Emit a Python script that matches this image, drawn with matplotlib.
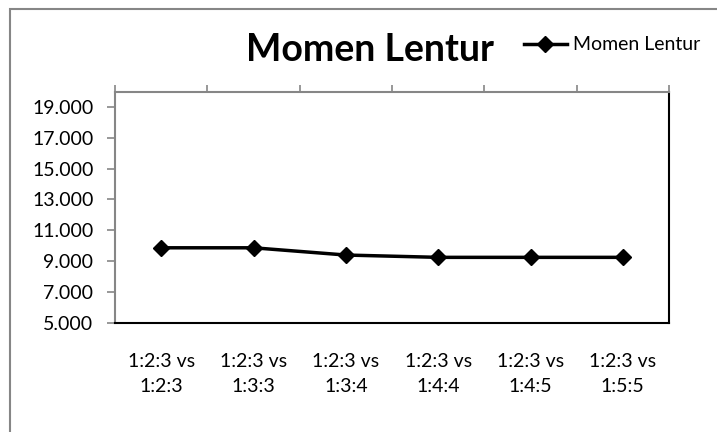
import numpy as np
import matplotlib.pyplot as plt
from matplotlib.ticker import FuncFormatter

plt.rcParams['font.family'] = ['Lato', 'DejaVu Sans']

# data
kategori = ["1:2:3 vs\n1:2:3", "1:2:3 vs\n1:3:3", "1:2:3 vs\n1:3:4",
            "1:2:3 vs\n1:4:4", "1:2:3 vs\n1:4:5", "1:2:3 vs\n1:5:5"]
momen = [9860, 9860, 9390, 9240, 9240, 9240]
y_ticks = [5000, 7000, 9000, 11000, 13000, 15000, 17000, 19000]

W, H = 717, 432
fig = plt.figure(figsize=(W / 100, H / 100), dpi=100)
gray = "#868686"

# outer chart border
fig.add_artist(plt.Rectangle((10 / W, -0.1), 1.2, (H - 9.5) / H + 0.1,
                             transform=fig.transFigure, fill=False,
                             edgecolor=gray, linewidth=1.5))

ax = fig.add_axes([115 / W, (H - 322.7) / H, (669 - 115) / W, (322.7 - 91.5) / H])
x = np.arange(len(kategori))
ax.plot(x, momen, color="black", linewidth=2.5, marker="D", markersize=8,
        label="Momen Lentur")

ax.set_xlim(-0.5, len(kategori) - 0.5)
ax.set_ylim(5000, 20000)
ax.set_yticks(y_ticks)
ax.yaxis.set_major_formatter(FuncFormatter(lambda v, p: f"{v:,.0f}".replace(",", ".")))
ax.set_xticks(x)
ax.set_xticklabels(kategori, linespacing=1.6)
ax.set_xticks(np.arange(-0.5, len(kategori), 1), minor=True)

ax.tick_params(axis="x", which="major", bottom=False, top=False, pad=18, labelsize=14)
ax.tick_params(axis="x", which="minor", bottom=False, top=True, length=5,
               color=gray, width=1.2, direction="out")
ax.tick_params(axis="y", which="major", left=True, length=5.5, color=gray,
               width=1.2, labelsize=14, pad=10)

for s in ["left", "top"]:
    ax.spines[s].set_color(gray)
    ax.spines[s].set_linewidth(1.5)
for s in ["right", "bottom"]:
    ax.spines[s].set_color("black")
    ax.spines[s].set_linewidth(1.5)

fig.text(370 / W, 1 - 50 / H, "Momen Lentur", fontsize=27, fontweight="bold",
         ha="center", va="center")
fig.legend(loc="center left", bbox_to_anchor=(516 / W, 1 - 45 / H), frameon=False,
           fontsize=14, handlelength=2.2, handletextpad=0.35, borderaxespad=0)

fig.savefig("out.png", dpi=100)
